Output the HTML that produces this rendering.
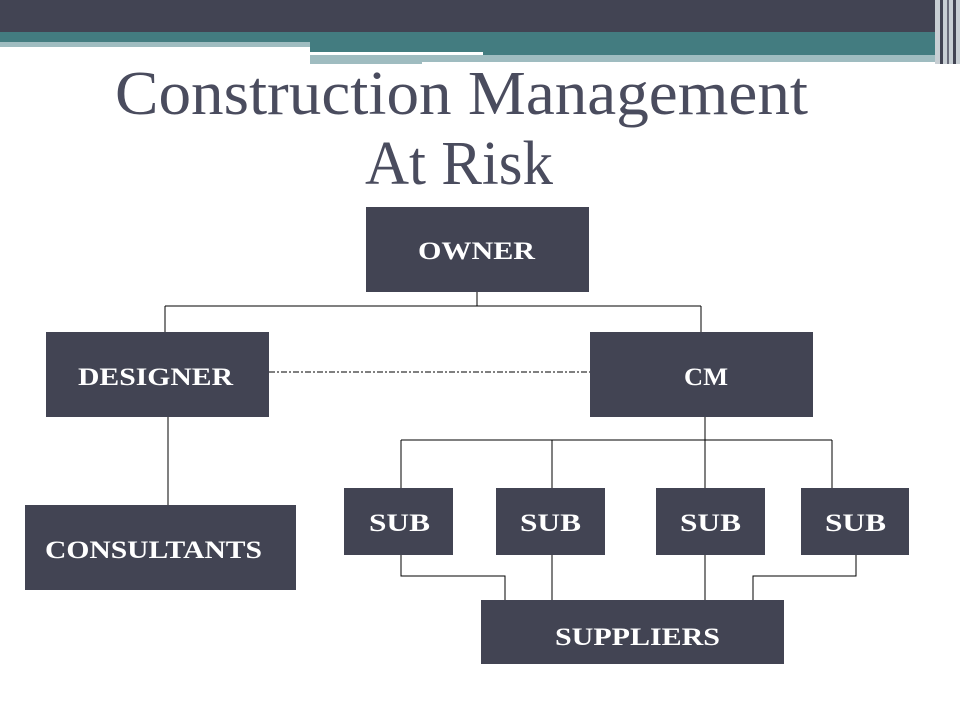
<!DOCTYPE html>
<html><head><style>
body{margin:0;width:960px;height:720px;overflow:hidden;background:#fff;}
</style></head><body>
<svg width="960" height="720" xmlns="http://www.w3.org/2000/svg">
<rect x="0" y="0" width="960" height="32" fill="#424453"/>
<rect x="0" y="32" width="960" height="10" fill="#437c80"/>
<rect x="0" y="42" width="310" height="5" fill="#9fbcc0"/>
<rect x="310" y="42" width="650" height="13" fill="#437c80"/>
<rect x="310" y="52" width="173" height="3" fill="#fff"/>
<rect x="310" y="55" width="650" height="7" fill="#9fbcc0"/>
<rect x="310" y="62" width="112" height="2" fill="#9fbcc0"/>
<rect x="935" y="0" width="25" height="64" fill="#c8cfd4"/>
<rect x="940" y="0" width="3" height="64" fill="#424453"/>
<rect x="947" y="0" width="2" height="64" fill="#6a6c7a"/>
<rect x="953" y="0" width="3" height="64" fill="#424453"/>
<g font-family="Liberation Serif, serif" fill="#4a4c5e" font-size="62">
<text x="115" y="114" textLength="693" lengthAdjust="spacingAndGlyphs">Construction Management</text>
<text x="365" y="184" textLength="188" lengthAdjust="spacingAndGlyphs">At Risk</text>
</g>
<g stroke="#000" stroke-width="1" fill="none">
<path d="M477 292V306M165 306H701M165 306V332M701 306V332"/>
<path d="M168 417V505"/>
<path d="M705 417V440M401 440H832M401 440V488M552 440V488M705 440V488M832 440V488"/>
<path d="M401 555V576H505V600M552 555V600M705 555V600M856 555V576H753V600"/>
<path d="M269 372H590" stroke-dasharray="6,2,2,2"/>
</g>
<g fill="#424453">
<rect x="366" y="207" width="223" height="85"/>
<rect x="46" y="332" width="223" height="85"/>
<rect x="590" y="332" width="223" height="85"/>
<rect x="25" y="505" width="271" height="85"/>
<rect x="344" y="488" width="109" height="67"/>
<rect x="496" y="488" width="109" height="67"/>
<rect x="656" y="488" width="109" height="67"/>
<rect x="801" y="488" width="108" height="67"/>
<rect x="481" y="600" width="303" height="64"/>
</g>
<g font-family="Liberation Serif, serif" font-weight="bold" fill="#fff" font-size="25">
<text x="418" y="259" textLength="117" lengthAdjust="spacingAndGlyphs">OWNER</text>
<text x="78" y="385" textLength="155" lengthAdjust="spacingAndGlyphs">DESIGNER</text>
<text x="684" y="385" textLength="44" lengthAdjust="spacingAndGlyphs">CM</text>
<text x="45" y="558" textLength="217" lengthAdjust="spacingAndGlyphs">CONSULTANTS</text>
<text x="369" y="531" textLength="61" lengthAdjust="spacingAndGlyphs">SUB</text>
<text x="520" y="531" textLength="61" lengthAdjust="spacingAndGlyphs">SUB</text>
<text x="680" y="531" textLength="61" lengthAdjust="spacingAndGlyphs">SUB</text>
<text x="825" y="531" textLength="61" lengthAdjust="spacingAndGlyphs">SUB</text>
<text x="555" y="645" textLength="165" lengthAdjust="spacingAndGlyphs">SUPPLIERS</text>
</g>
</svg>
</body></html>
